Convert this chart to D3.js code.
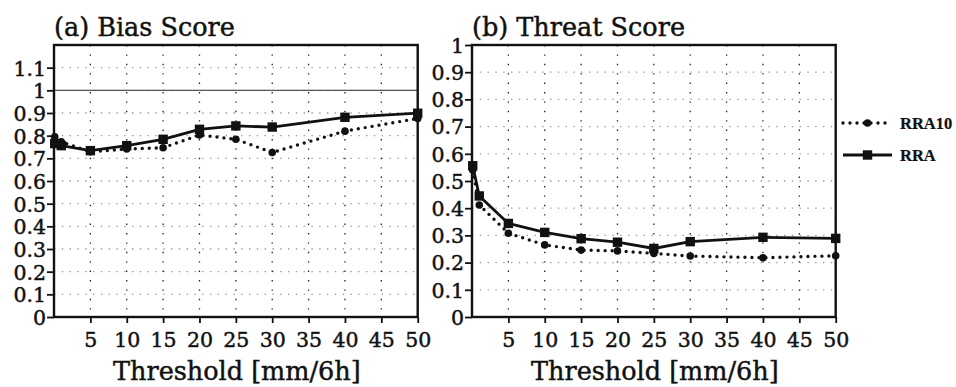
<!DOCTYPE html>
<html>
<head>
<meta charset="utf-8">
<script src="https://cdn.jsdelivr.net/npm/d3@7/dist/d3.min.js"></script>
<style>
  html, body { margin: 0; padding: 0; background: #fff; }
  svg { display: block; }
  text { font-family: "DejaVu Serif", serif; fill: #111; stroke: #111; stroke-width: 0.45px; }
</style>
</head>
<body>
<svg id="chart" width="956" height="387"></svg>
<script>
// Precipitation thresholds [mm/6h]
const thresholds = [0.1, 1, 5, 10, 15, 20, 25, 30, 40, 50];

// (a) Bias score
const biasRRA10 = [0.795, 0.773, 0.729, 0.741, 0.747, 0.803, 0.784, 0.726, 0.820, 0.876];
const biasRRA   = [0.765, 0.756, 0.734, 0.756, 0.784, 0.828, 0.843, 0.838, 0.881, 0.899];

// (b) Threat score
const tsRRA10 = [0.540, 0.412, 0.308, 0.265, 0.246, 0.243, 0.234, 0.224, 0.218, 0.225];
const tsRRA   = [0.556, 0.445, 0.344, 0.311, 0.288, 0.275, 0.252, 0.277, 0.293, 0.289];

const xTicks = [5, 10, 15, 20, 25, 30, 35, 40, 45, 50];
const biasTicks = [0, 0.1, 0.2, 0.3, 0.4, 0.5, 0.6, 0.7, 0.8, 0.9, 1, 1.1];
const tsTicks = [0, 0.1, 0.2, 0.3, 0.4, 0.5, 0.6, 0.7, 0.8, 0.9, 1];

const seriesNames = ["RRA10", "RRA"];

const svg = d3.select("#chart");

function fmt(v) { return v === 0 ? "0" : (Math.abs(v - 1) < 1e-9 ? "1" : d3.format(".1f")(v)); }

function panel(opt) {
  const x = d3.scaleLinear().domain([0, 50]).range([opt.left, opt.right]);
  const y = d3.scaleLinear().domain(opt.yDomain).range([opt.bottom, opt.top]);
  const g = svg.append("g");

  // horizontal grid (light grey dots)
  g.append("g").selectAll("line").data(opt.yTicks.filter(v => v > 0)).join("line")
    .attr("x1", opt.left).attr("x2", opt.right)
    .attr("y1", d => y(d)).attr("y2", d => y(d))
    .attr("stroke", "#999").attr("stroke-width", 1.3)
    .attr("stroke-dasharray", "1.4,6.4");

  // vertical grid (dark dots)
  g.append("g").selectAll("line").data(xTicks.filter(v => v < 50)).join("line")
    .attr("x1", d => x(d)).attr("x2", d => x(d))
    .attr("y1", opt.top).attr("y2", opt.bottom)
    .attr("stroke", "#222").attr("stroke-width", 1.3)
    .attr("stroke-dasharray", "1.4,8");

  if (opt.refLine !== undefined) {
    g.append("line")
      .attr("x1", opt.left).attr("x2", opt.right)
      .attr("y1", y(opt.refLine)).attr("y2", y(opt.refLine))
      .attr("stroke", "#555").attr("stroke-width", 1.3);
  }

  const line = d3.line().x((d, i) => x(thresholds[i])).y(d => y(d));

  // RRA10: dotted line with round markers
  g.append("path").datum(opt.s1)
    .attr("d", line).attr("fill", "none")
    .attr("stroke", "#111").attr("stroke-width", 3.4)
    .attr("stroke-linecap", "round").attr("stroke-dasharray", "0,7");
  g.append("g").selectAll("circle").data(opt.s1).join("circle")
    .attr("cx", (d, i) => x(thresholds[i])).attr("cy", d => y(d))
    .attr("r", 3.8).attr("fill", "#111");

  // RRA: solid line with square markers
  g.append("path").datum(opt.s2)
    .attr("d", line).attr("fill", "none")
    .attr("stroke", "#111").attr("stroke-width", 2.8);
  g.append("g").selectAll("rect").data(opt.s2).join("rect")
    .attr("x", (d, i) => x(thresholds[i]) - 4.7).attr("y", d => y(d) - 4.7)
    .attr("width", 9.4).attr("height", 9.4).attr("fill", "#111");

  // frame
  g.append("rect")
    .attr("x", opt.left).attr("y", opt.top)
    .attr("width", opt.right - opt.left).attr("height", opt.bottom - opt.top)
    .attr("fill", "none").attr("stroke", "#111").attr("stroke-width", 2.4);

  // axes
  const yAxis = d3.axisLeft(y).tickValues(opt.yTicks).tickFormat(fmt)
    .tickSizeInner(7).tickSizeOuter(0).tickPadding(2);
  const ya = g.append("g").attr("transform", `translate(${opt.left},0)`).call(yAxis);
  ya.select(".domain").remove();
  ya.selectAll(".tick line").attr("stroke", "#111").attr("stroke-width", 1.8);
  ya.selectAll(".tick text").attr("font-family", "DejaVu Serif").attr("font-size", 20.5)
    .attr("fill", "#111").attr("x", -8).attr("dy", "0.36em");

  const xAxis = d3.axisBottom(x).tickValues(xTicks).tickFormat(d3.format("d"))
    .tickSizeInner(6).tickSizeOuter(0).tickPadding(3);
  const xa = g.append("g").attr("transform", `translate(0,${opt.bottom})`).call(xAxis);
  xa.select(".domain").remove();
  xa.selectAll(".tick line").attr("stroke", "#111").attr("stroke-width", 1.8);
  xa.selectAll(".tick text").attr("font-family", "DejaVu Serif").attr("font-size", 20.5)
    .attr("fill", "#111").attr("y", 30).attr("dy", 0);

  // title
  g.append("text").attr("x", opt.left).attr("y", 36)
    .attr("font-size", 25.5).text(opt.title);

  // x-axis label
  g.append("text").attr("x", (opt.left + opt.right) / 2 + 1).attr("y", 380)
    .attr("text-anchor", "middle").attr("font-size", 25.5)
    .text("Threshold [mm/6h]");

  return { x, y };
}

panel({
  left: 54, right: 417.7, top: 45, bottom: 317,
  yDomain: [0, 1.2], yTicks: biasTicks, refLine: 1,
  s1: biasRRA10, s2: biasRRA, title: "(a) Bias Score"
});

panel({
  left: 472, right: 835.7, top: 45, bottom: 317,
  yDomain: [0, 1], yTicks: tsTicks,
  s1: tsRRA10, s2: tsRRA, title: "(b) Threat Score"
});

// legend
const legend = svg.append("g");
const legendY = [123, 155];
legend.selectAll("line").data(seriesNames).join("line")
  .attr("x1", 843).attr("x2", 892)
  .attr("y1", (d, i) => legendY[i]).attr("y2", (d, i) => legendY[i])
  .attr("stroke", "#111")
  .attr("stroke-width", (d, i) => i === 0 ? 3.4 : 2.8)
  .attr("stroke-linecap", (d, i) => i === 0 ? "round" : "butt")
  .attr("stroke-dasharray", (d, i) => i === 0 ? "0,7" : null);
legend.append("circle").attr("cx", 867.5).attr("cy", legendY[0]).attr("r", 3.8).attr("fill", "#111");
legend.append("rect").attr("x", 867.5 - 4.7).attr("y", legendY[1] - 4.7)
  .attr("width", 9.4).attr("height", 9.4).attr("fill", "#111");
legend.selectAll("text").data(seriesNames).join("text")
  .attr("x", 900).attr("y", (d, i) => legendY[i])
  .attr("dy", "0.34em")
  .style("font-family", "'Liberation Serif', serif")
  .style("font-weight", "bold").style("font-size", "16.5px")
  .style("stroke-width", "0.2px")
  .text(d => d);
</script>
</body>
</html>
